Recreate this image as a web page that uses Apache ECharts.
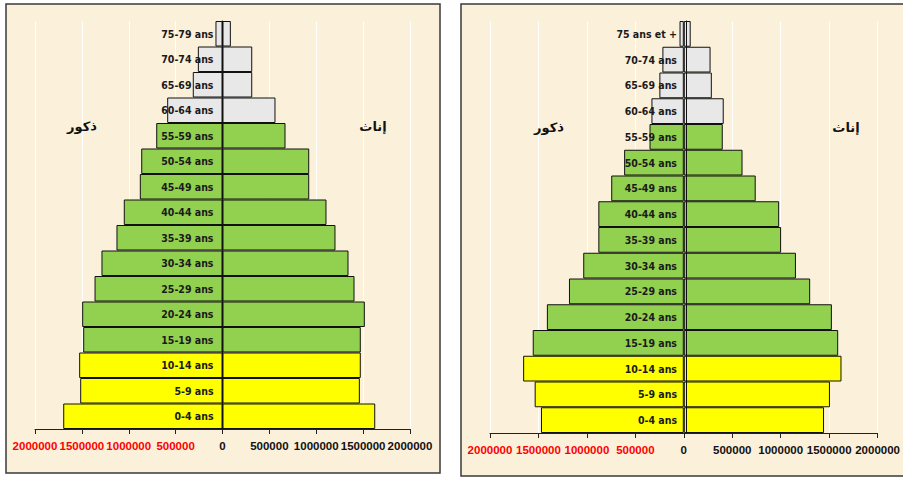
<!DOCTYPE html>
<html>
<head>
<meta charset="utf-8">
<script src="https://cdn.jsdelivr.net/npm/echarts@6/dist/echarts.min.js"></script>
<style>
html,body{margin:0;padding:0;background:#fff;}
#c{width:903px;height:477px;}
</style>
</head>
<body>
<div id="c"></div>
<script>
// Age groups, listed bottom (youngest) to top (oldest)
const categoriesLeft = ['0-4 ans','5-9 ans','10-14 ans','15-19 ans','20-24 ans','25-29 ans','30-34 ans','35-39 ans','40-44 ans','45-49 ans','50-54 ans','55-59 ans','60-64 ans','65-69 ans','70-74 ans','75-79 ans'];
const categoriesRight = ['0-4 ans','5-9 ans','10-14 ans','15-19 ans','20-24 ans','25-29 ans','30-34 ans','35-39 ans','40-44 ans','45-49 ans','50-54 ans','55-59 ans','60-64 ans','65-69 ans','70-74 ans','75 ans et +'];

const malesLeft   = [1699000,1518000,1529000,1486000,1497000,1365000,1291000,1131000,1053000,882000,867000,707000,590000,317000,263000,75000];
const femalesLeft = [1629000,1465000,1475000,1475000,1518000,1408000,1344000,1205000,1109000,925000,925000,672000,565000,317000,317000,89000];

const malesRight   = [1474000,1539000,1658000,1559000,1413000,1185000,1038000,882000,882000,749000,616000,354000,334000,252000,221000,44000];
const femalesRight = [1447000,1508000,1627000,1593000,1528000,1304000,1157000,1004000,984000,742000,606000,402000,412000,289000,276000,71000];

const axisMin = -2000000, axisMax = 2000000, axisStep = 500000;
const maleLabel = 'ذكور';
const femaleLabel = 'إناث';

const narrow = "'Liberation Sans Narrow','DejaVu Sans Condensed',sans-serif";
const tickFont = "'Liberation Sans Narrow','Liberation Sans',sans-serif";

function barColor(p){
  const i = p.dataIndex;
  if (i <= 2) return '#ffff00';
  if (i <= 11) return '#92d050';
  return '#e8e8e8';
}

function xAxisCfg(gi){
  return {
    gridIndex: gi, type: 'value', min: axisMin, max: axisMax, interval: axisStep,
    axisLine: {show: true, onZero: false, lineStyle: {color: '#222', width: 1}},
    axisTick: {show: true, length: 5, lineStyle: {color: '#222'}},
    axisLabel: {
      margin: 11, fontFamily: tickFont, fontWeight: 'bold', fontSize: 11.5,
      showMinLabel: true, showMaxLabel: true, hideOverlap: false,
      formatter: v => String(Math.abs(v)),
      color: v => (Number(v) < 0 ? '#ff0000' : '#111')
    },
    splitLine: {show: true, lineStyle: {color: 'rgba(255,255,255,0.95)', width: 1}}
  };
}
function yAxisCfg(gi, cats, off){
  return {
    gridIndex: gi, type: 'category', data: cats, z: 10, position: 'left', offset: off,
    axisLine: {show: true, onZero: false, lineStyle: {color: '#111', width: 1}},
    axisTick: {show: false},
    axisLabel: {margin: 9, fontFamily: narrow, fontWeight: 'bold', fontSize: 10.5, color: '#1a1a1a'},
    splitLine: {show: false}
  };
}
function seriesPair(gi, males, females){
  const base = {
    type: 'bar', xAxisIndex: gi, yAxisIndex: gi, stack: 'p' + gi,
    barCategoryGap: '0%',
    itemStyle: {color: barColor, borderColor: '#111', borderWidth: 1},
    emphasis: {disabled: true}
  };
  return [
    Object.assign({}, base, {name: maleLabel, data: males.map(v => -v)}),
    Object.assign({}, base, {name: femaleLabel, data: females.slice()})
  ];
}

const arabicFont = "bold 13px 'DejaVu Sans', 'Noto Sans', sans-serif";
const chart = echarts.init(document.getElementById('c'), null, {renderer: 'svg'});
chart.setOption({
  animation: false,
  backgroundColor: '#ffffff',
  graphic: [
    {type: 'rect', z: -10, shape: {x: 6, y: 4, width: 434, height: 469}, style: {fill: '#fbf0da', stroke: '#3a3a3a', lineWidth: 1.5}},
    {type: 'rect', z: -10, shape: {x: 461, y: 4, width: 450, height: 472}, style: {fill: '#fbf0da', stroke: '#3a3a3a', lineWidth: 1.5}},
    {type: 'text', z: 20, x: 82, y: 126, style: {text: maleLabel, font: arabicFont, fill: '#111', align: 'center', verticalAlign: 'middle'}},
    {type: 'text', z: 20, x: 373, y: 126, style: {text: femaleLabel, font: arabicFont, fill: '#111', align: 'center', verticalAlign: 'middle'}},
    {type: 'text', z: 20, x: 549, y: 127, style: {text: maleLabel, font: arabicFont, fill: '#111', align: 'center', verticalAlign: 'middle'}},
    {type: 'text', z: 20, x: 846, y: 127, style: {text: femaleLabel, font: arabicFont, fill: '#111', align: 'center', verticalAlign: 'middle'}}
  ],
  grid: [
    {left: 35, width: 375, top: 21, height: 408},
    {left: 490, width: 392, top: 21, height: 412}
  ],
  xAxis: [xAxisCfg(0), xAxisCfg(1)],
  yAxis: [yAxisCfg(0, categoriesLeft, -187.5), yAxisCfg(1, categoriesRight, -196)],
  series: [].concat(seriesPair(0, malesLeft, femalesLeft), seriesPair(1, malesRight, femalesRight))
});
</script>
</body>
</html>
